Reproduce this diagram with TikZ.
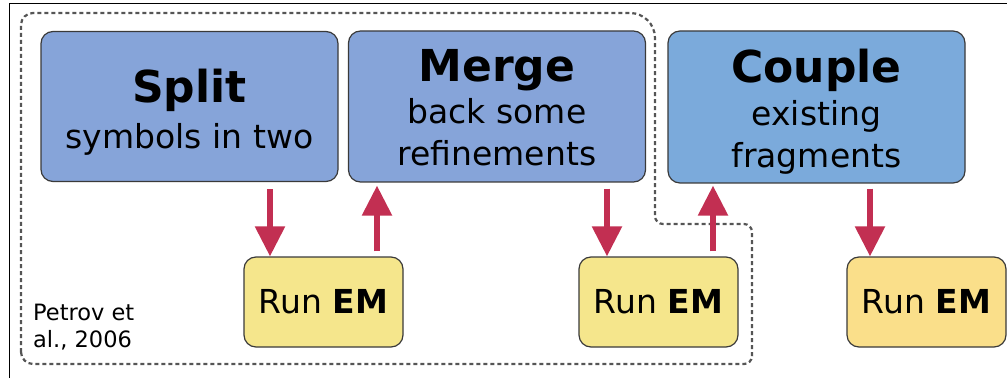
\documentclass[tikz,border=0pt]{standalone}
\usepackage{fontspec}
\setmainfont{DejaVu Sans}
\usetikzlibrary{arrows.meta}

\definecolor{stepblue}{HTML}{86A4D9}
\definecolor{coupleblue}{HTML}{7BAADB}
\definecolor{emyellow}{HTML}{F5E68C}
\definecolor{emorange}{HTML}{FADF8A}
\definecolor{boxline}{HTML}{3A3A3A}
\definecolor{arrowred}{HTML}{C22F52}
\definecolor{loopgray}{HTML}{555555}

\tikzset{
  stagebox/.style={draw=boxline, line width=1.2pt, rounded corners=12pt,
    minimum width=297pt, minimum height=150pt, inner sep=0pt,
    align=center, font=\fontsize{33}{42}\selectfont},
  embox/.style={draw=boxline, line width=1.2pt, rounded corners=12pt,
    minimum width=159pt, minimum height=90pt, inner sep=0pt,
    font=\fontsize{33}{40}\selectfont},
  arr/.style={arrowred, line width=5.5pt,
    -{Triangle[width=29pt,length=30pt]}},
  loopline/.style={loopgray, line width=2.2pt, dash pattern=on 4pt off 3pt},
  frameline/.style={black, line width=1.6pt},
}
% bold stage title; the optional argument sets the height of the first line
\newcommand{\stagetitle}[2][0pt]{{\fontsize{44}{42}\selectfont\bfseries\rule{0pt}{#1}#2}}

\begin{document}
\begin{tikzpicture}[x=1pt, y=1pt]
  \useasboundingbox (0,0) rectangle (1007,378);

  % partial frame along the top and left edges
  \draw[frameline] (9.5,0) -- (9.5,374.5) -- (1007,374.5);

  % stage boxes
  \node[stagebox, fill=stepblue] (split) at (189.5,271.5)
    {\stagetitle[44.8pt]{Split}\\[4pt]symbols in two};
  \node[stagebox, fill=stepblue, minimum height=151pt] (merge) at (497,271.5)
    {\stagetitle[35pt]{Merge}\\back some\\refinements};
  \node[stagebox, fill=coupleblue, minimum height=152pt] (couple) at (816.5,271)
    {\stagetitle[42.8pt]{Couple}\\[1pt]existing\\fragments};

  % EM boxes
  \node[embox, fill=emyellow] (run1) at (323.5,76) {Run \textbf{EM}};
  \node[embox, fill=emyellow] (run2) at (658.5,76) {Run \textbf{EM}};
  \node[embox, fill=emorange] (run3) at (926.5,76) {Run \textbf{EM}};

  % citation
  \node[anchor=north west, inner sep=0pt, align=left,
        font=\fontsize{22.5}{27}\selectfont] (cite) at (33,74.5)
    {Petrov et\\al., 2006};

  % split-merge loop boundary
  \draw[loopline] (21,26) -- (21,353)
    arc[start angle=180, end angle=90, radius=12pt] -- (630,365)
    arc[start angle=90, end angle=0, radius=25pt] -- (655,162)
    arc[start angle=180, end angle=270, radius=8pt] -- (744,154)
    arc[start angle=90, end angle=0, radius=8pt] -- (752,22)
    arc[start angle=0, end angle=-90, radius=8pt] -- (33,14)
    arc[start angle=270, end angle=180, radius=12pt] -- cycle;

  % connectors
  \draw[arr] ([xshift=80.5pt,yshift=-7pt]split.south) -- ([xshift=-53.5pt]run1.north);
  \draw[arr] ([xshift=53.5pt,yshift=5pt]run1.north) -- ([xshift=-120pt,yshift=-3pt]merge.south);
  \draw[arr] ([xshift=110pt,yshift=-6pt]merge.south) -- ([xshift=-51.5pt]run2.north);
  \draw[arr] ([xshift=54.5pt,yshift=5pt]run2.north) -- ([xshift=-103.5pt,yshift=-2pt]couple.south);
  \draw[arr] ([xshift=53.5pt,yshift=-5pt]couple.south) -- ([xshift=-56.5pt]run3.north);
\end{tikzpicture}
\end{document}
